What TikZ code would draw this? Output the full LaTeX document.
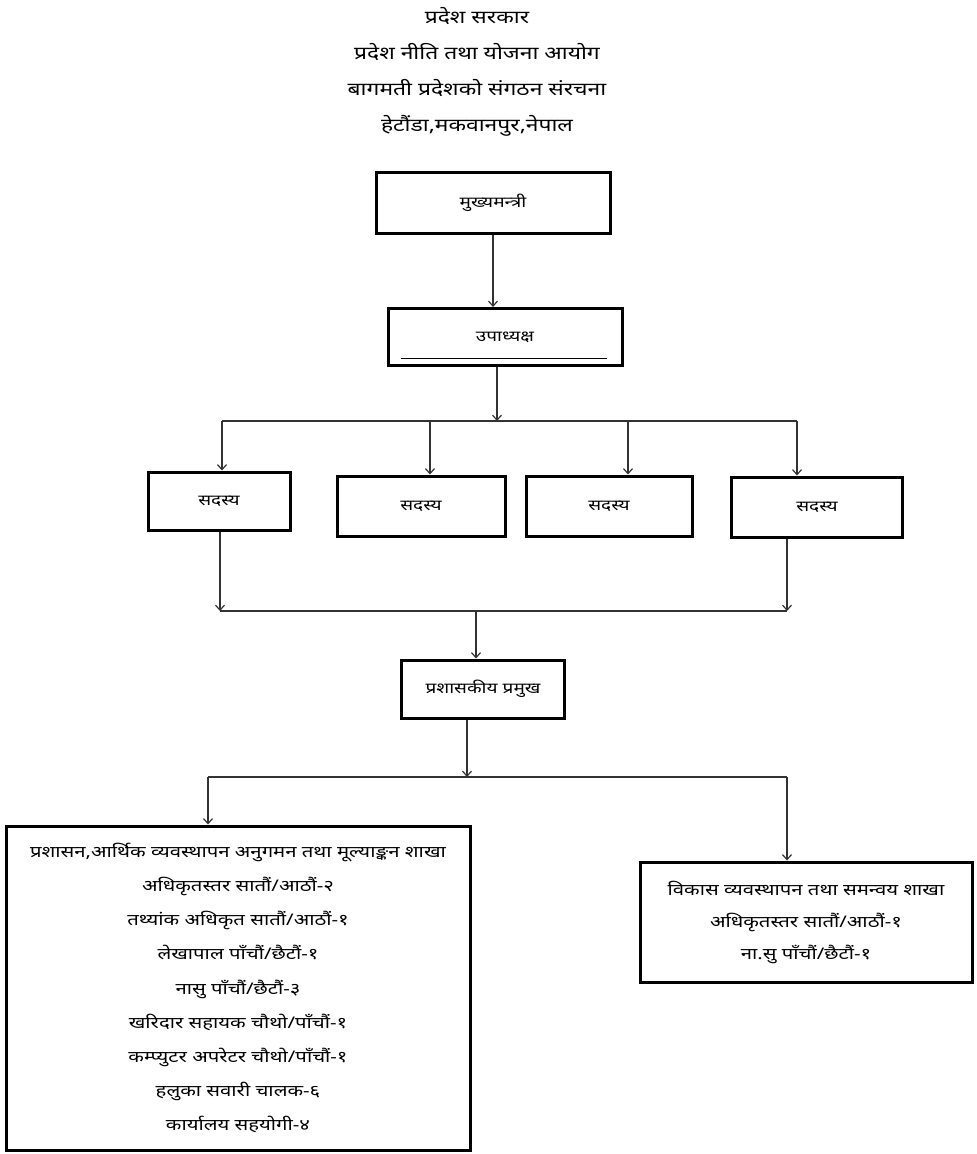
\documentclass[tikz,border=0pt]{standalone}
\usepackage{fontspec}
\setmainfont[Script=Devanagari,FakeStretch=1.27]{Noto Sans}
\usepackage{tikz}
\usetikzlibrary{arrows.meta}

\begin{document}
\begin{tikzpicture}
	[x=1pt,y=-1pt,>={Straight Barb[length=5pt,width=9pt]},
		link/.style={->,line width=1.2pt,draw=black!80},
		bar/.style={line width=1.2pt,draw=black!80},
		post node/.style={draw,line width=3pt,inner sep=4pt,font=\fontsize{15}{18}\selectfont},
		branch node/.style={draw,line width=3pt,align=center,font=\fontsize{16}{34.2}\selectfont}]

	\useasboundingbox (0,0) rectangle (977,1154);

	\node[align=center,font=\fontsize{18}{36}\selectfont] (title) at (477,72)
		{प्रदेश सरकार\\प्रदेश नीति तथा योजना आयोग\\बागमती प्रदेशको संगठन संरचना\\हेटौंडा,मकवानपुर,नेपाल};

	\node[post node,minimum width=234pt,minimum height=61pt] (CM) at (493,203) {मुख्यमन्त्री};
	\node[post node,minimum width=234pt,minimum height=57pt] (VC) at (505,337) {उपाध्यक्ष};
	\draw[line width=0.8pt] ([xshift=14pt,yshift=9pt]VC.south west) -- ([xshift=-17pt,yshift=9pt]VC.south east);

	\node[post node,minimum width=142pt,minimum height=58pt] (M1) at (219,501) {सदस्य};
	\node[post node,minimum width=168pt,minimum height=60pt] (M2) at (421,506) {सदस्य};
	\node[post node,minimum width=166pt,minimum height=60pt] (M3) at (609,506) {सदस्य};
	\node[post node,minimum width=171pt,minimum height=60pt] (M4) at (817,507) {सदस्य};

	\node[post node,minimum width=163pt,minimum height=58pt] (AC) at (483,689) {प्रशासकीय प्रमुख};

	\node[branch node,minimum width=464pt,minimum height=324pt] (B1) at (238,988)
		{\rule{0pt}{4pt}प्रशासन,आर्थिक व्यवस्थापन अनुगमन तथा मूल्याङ्कन शाखा\\अधिकृतस्तर सातौं/आठौं-२\\तथ्यांक अधिकृत सातौं/आठौं-१\\लेखापाल पाँचौं/छैटौं-१\\नासु पाँचौं/छैटौं-३\\खरिदार सहायक चौथो/पाँचौं-१\\कम्प्युटर अपरेटर चौथो/पाँचौं-१\\हलुका सवारी चालक-६\\कार्यालय सहयोगी-४};
	\node[branch node,minimum width=332pt,minimum height=120pt,font=\fontsize{16}{32}\selectfont] (B2) at (806,922)
		{विकास व्यवस्थापन तथा समन्वय शाखा\\अधिकृतस्तर सातौं/आठौं-१\\ना.सु पाँचौं/छैटौं-१};

	% junction points
	\coordinate (J1) at (497,421);
	\coordinate (T1) at (222,421);
	\coordinate (T2) at (430,421);
	\coordinate (T3) at (628,421);
	\coordinate (T4) at (797,421);
	\coordinate (J2) at (476,611);
	\coordinate (U1) at (220,611);
	\coordinate (U4) at (787,611);
	\coordinate (J3) at (467,777);
	\coordinate (V1) at (208,777);
	\coordinate (V2) at (787,777);

	\draw[link] (CM.south) -- (CM.south |- VC.north);
	\draw[link] (J1 |- VC.south) -- (J1);
	\draw[bar] (T1) -- (T4);
	\foreach \t/\m in {T1/M1,T2/M2,T3/M3,T4/M4}
		\draw[link] (\t) -- (\t |- \m.north);

	\draw[link] (U1 |- M1.south) -- (U1);
	\draw[link] (U4 |- M4.south) -- (U4);
	\draw[bar] (U1) -- (U4);
	\draw[link] (J2) -- (J2 |- AC.north);

	\draw[link] (J3 |- AC.south) -- (J3);
	\draw[bar] (V1) -- (V2);
	\draw[link] (V1) -- (V1 |- B1.north);
	\draw[link] (V2) -- (V2 |- B2.north);

\end{tikzpicture}
\end{document}
